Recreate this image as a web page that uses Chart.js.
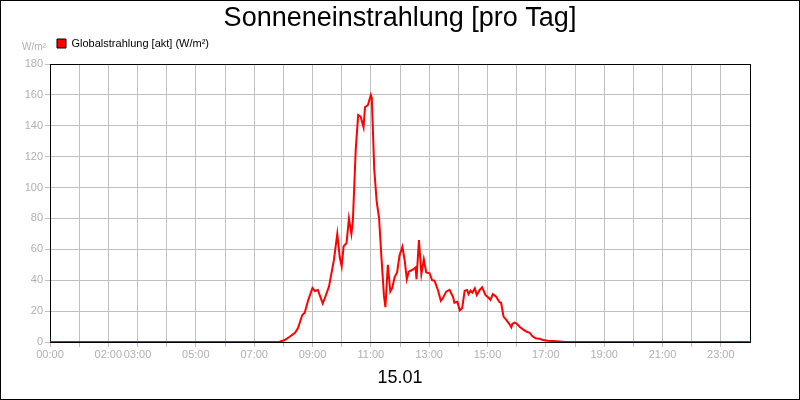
<!DOCTYPE html>
<html>
<head>
<meta charset="utf-8">
<script src="https://cdn.jsdelivr.net/npm/chart.js@4/dist/chart.umd.min.js"></script>
<style>
html,body{margin:0;padding:0;background:#fff;}
canvas{display:block;}
</style>
</head>
<body>
<canvas id="c" width="800" height="400"></canvas>
<script>
// minutes after midnight
const times = [0, 471, 483, 493, 504, 510, 519, 524, 531, 540, 545, 551, 561, 565, 574, 584, 591, 596, 600, 604, 610, 615, 620, 623, 629, 634, 639, 645, 648, 654, 660, 662, 667, 672, 677, 682, 687, 690, 695, 700, 704, 709, 714, 719, 725, 730, 734, 738, 747, 752, 754, 759, 764, 769, 774, 781, 786, 791, 798, 804, 808, 815, 822, 829, 832, 838, 843, 848, 853, 858, 861, 865, 869, 874, 878, 884, 889, 896, 901, 906, 911, 918, 924, 928, 933, 939, 944, 949, 951, 956, 961, 966, 973, 980, 987, 992, 999, 1007, 1014, 1024, 1035, 1048, 1059, 1440];
const radiation = [0, 0, 1.3, 3.4, 6, 8.9, 17.5, 19, 27, 35, 33, 33.7, 25, 28, 36, 53, 70, 55, 49, 62, 64, 80, 70, 78, 125, 147, 146, 139, 152, 153.5, 160, 158, 112, 91, 80, 54, 30, 22.5, 50, 32.6, 35, 42, 45, 56, 61.7, 52, 40.6, 45.5, 47, 48.3, 40.6, 66, 44, 53.5, 45, 44.5, 40, 39.7, 33.7, 26.7, 28.3, 32.6, 33.7, 29.3, 25.4, 26, 20.5, 22, 33.2, 33.7, 31, 33.2, 32, 34.8, 30.4, 33.7, 35.4, 30.4, 29, 27.2, 31, 29.3, 26, 25.4, 16.4, 14.2, 12.1, 9.5, 11.7, 12.5, 11.7, 9.9, 8.2, 6.7, 6, 3.9, 2.4, 2.1, 1.3, 0.8, 0.6, 0.4, 0, 0];
const labeledHours = [0, 2, 3, 5, 7, 9, 11, 13, 15, 17, 19, 21, 23];
const gridHours = [0,1,2,3,4,5,6,7,8,9,10,11,12,13,14,15,16,17,18,19,20,21,22,23];
const titleText = 'Sonneneinstrahlung [pro Tag]';
const seriesName = 'Globalstrahlung [akt] (W/m²)';
const unitText = 'W/m²';
const dateText = '15.01';

const FONT = "'Liberation Sans', Arial, sans-serif";
const GRAY_TXT = '#b0b0b0';
const GRID = '#c0c0c0';

const extras = {
  id: 'extras',
  afterLayout(chart) {
    const P = chart.options.plugins.legend.labels.padding;
    chart.legend.left = 57 - P;
  },
  afterDraw(chart) {
    const ctx = chart.ctx;
    ctx.save();
    ctx.font = '10px ' + FONT;
    ctx.fillStyle = GRAY_TXT;
    ctx.textAlign = 'left';
    ctx.textBaseline = 'middle';
    ctx.fillText(unitText, 22, 47);
    ctx.strokeStyle = '#000';
    ctx.lineWidth = 1;
    ctx.strokeRect(0.5, 0.5, chart.width - 1, chart.height - 1);
    ctx.restore();
  }
};

new Chart(document.getElementById('c'), {
  type: 'line',
  data: {
    datasets: [{
      label: seriesName,
      data: times.map((t, i) => ({x: t, y: radiation[i]})),
      borderColor: '#ff0000',
      backgroundColor: '#ff0000',
      borderWidth: 2,
      pointRadius: 0,
      tension: 0,
      fill: false
    }]
  },
  options: {
    responsive: false,
    animation: false,
    events: [],
    layout: {padding: {top: 0, left: 0, right: 0, bottom: 0}},
    plugins: {
      title: {
        display: true,
        text: titleText,
        color: '#000',
        font: {family: FONT, size: 27, weight: 'normal'},
        padding: {top: 2, bottom: 0}
      },
      legend: {
        display: true,
        position: 'top',
        align: 'start',
        labels: {
          color: '#000',
          font: {family: FONT, size: 11},
          boxWidth: 9,
          boxHeight: 9,
          padding: 3.6,
          generateLabels(chart) {
            return Chart.defaults.plugins.legend.labels.generateLabels(chart).map(l => Object.assign(l, {strokeStyle: '#000', lineWidth: 1}));
          }
        }
      },
      tooltip: {enabled: false}
    },
    scales: {
      x: {
        type: 'linear',
        position: 'bottom',
        min: 0,
        max: 1440,
        afterBuildTicks(scale) { scale.ticks = gridHours.map(h => ({value: h * 60})); },
        afterFit(scale) { scale.height = 58; },
        ticks: {
          autoSkip: false,
          maxRotation: 0,
          minRotation: 0,
          color: GRAY_TXT,
          font: {family: FONT, size: 11},
          padding: 1,
          callback(v) {
            const h = Math.round(v / 60);
            return labeledHours.includes(h) ? String(h).padStart(2, '0') + ':00' : '';
          }
        },
        grid: {color: GRID, lineWidth: 1, drawTicks: true, tickLength: 5, tickColor: GRID},
        border: {color: '#000', width: 1},
        title: {
          display: true,
          text: dateText,
          color: '#000',
          font: {family: FONT, size: 18},
          padding: {top: 0, bottom: 11.5}
        }
      },
      x2: {
        type: 'linear',
        position: 'top',
        display: true,
        min: 0,
        max: 1440,
        afterFit(scale) { scale.height = 5; },
        ticks: {display: false},
        grid: {display: false, drawTicks: false},
        border: {color: '#000', width: 1}
      },
      y: {
        position: 'left',
        min: 0,
        max: 180,
        afterFit(scale) { scale.width = 50; },
        ticks: {
          stepSize: 20,
          color: GRAY_TXT,
          font: {family: FONT, size: 11},
          padding: 2
        },
        grid: {color: GRID, lineWidth: 1, drawTicks: true, tickLength: 5, tickColor: GRID},
        border: {color: '#000', width: 1}
      },
      y2: {
        position: 'right',
        display: true,
        min: 0,
        max: 180,
        afterFit(scale) { scale.width = 50; },
        ticks: {display: false},
        grid: {display: false, drawTicks: false},
        border: {color: '#000', width: 1}
      }
    }
  },
  plugins: [extras]
});
</script>
</body>
</html>
